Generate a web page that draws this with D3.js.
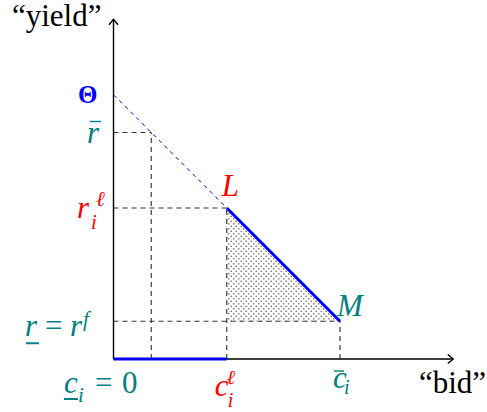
<!DOCTYPE html>
<html>
<head>
<meta charset="utf-8">
<script src="https://cdn.jsdelivr.net/npm/d3@7"></script>
<style>
  body { margin: 0; background: #fff; }
</style>
</head>
<body>
<div id="chart"></div>
<script>
// values in "bid" / "yield" units, axis runs 0..9 both ways
const axisMax = 9;
const lineBid = [0, 3, 6];      // Theta, L, M
const lineYield = [7, 4, 1];
const guideBid = [1, 3, 6];     // r-bar, c_i^l, c-bar_i
const guideYield = [6, 4, 1];   // r-bar, r_i^l, r^f
const zeroBid = [0, 3];         // blue stretch on the bid axis

const w = 487, h = 412;
const teal = "#008080", red = "#ff0000", blue = "#0000ff";
const serif = "'Liberation Serif', 'Times New Roman', Times, 'DejaVu Serif', serif";

const svg = d3.select("#chart").append("svg").attr("width", w).attr("height", h);

const x = d3.scaleLinear().domain([0, axisMax]).range([113.5, 453.25]);
const y = d3.scaleLinear().domain([0, axisMax]).range([359, 19.25]);

// dot pattern for the shaded triangle
const pat = svg.append("defs").append("pattern")
  .attr("id", "dots").attr("patternUnits", "userSpaceOnUse")
  .attr("width", 5).attr("height", 5);
pat.append("circle").attr("cx", 1.25).attr("cy", 1.25).attr("r", 0.85).attr("fill", "#777");
pat.append("circle").attr("cx", 3.75).attr("cy", 3.75).attr("r", 0.85).attr("fill", "#777");

// triangle L - M - (c_i^l, r^f)
const tri = [[lineBid[1], lineYield[1]], [lineBid[2], lineYield[2]], [lineBid[1], lineYield[2]]];
svg.append("path")
  .attr("d", d3.line().x(d => x(d[0])).y(d => y(d[1]))(tri) + "Z")
  .attr("fill", "url(#dots)");

// dashed guides to both axes
guideBid.forEach((b, i) => {
  const v = guideYield[i];
  svg.append("line").attr("x1", x(0)).attr("x2", x(b)).attr("y1", y(v)).attr("y2", y(v))
    .attr("stroke", "#333").attr("stroke-width", 1.15).attr("stroke-dasharray", "5,4");
  svg.append("line").attr("x1", x(b)).attr("x2", x(b)).attr("y1", y(0)).attr("y2", y(v))
    .attr("stroke", "#333").attr("stroke-width", 1.15).attr("stroke-dasharray", "5,4");
});

// thin dashed part Theta -> L
svg.append("line")
  .attr("x1", x(lineBid[0])).attr("y1", y(lineYield[0]))
  .attr("x2", x(lineBid[1])).attr("y2", y(lineYield[1]))
  .attr("stroke", blue).attr("stroke-width", 1).attr("stroke-dasharray", "4,4");

// axes with open arrow heads
const ax = svg.append("g").attr("stroke", "#000").attr("fill", "none").attr("stroke-width", 1.4);
ax.append("line").attr("x1", x(0)).attr("x2", x(0)).attr("y1", y(0)).attr("y2", y(axisMax));
ax.append("line").attr("x1", x(0)).attr("x2", x(axisMax)).attr("y1", y(0)).attr("y2", y(0));
ax.append("path").attr("d", `M${x(0) - 4.5},${y(axisMax) + 5.5} L${x(0)},${y(axisMax)} L${x(0) + 4.5},${y(axisMax) + 5.5}`);
ax.append("path").attr("d", `M${x(axisMax) - 5.5},${y(0) - 4.5} L${x(axisMax)},${y(0)} L${x(axisMax) - 5.5},${y(0) + 4.5}`);

// thick blue pieces
svg.append("line").attr("x1", x(zeroBid[0])).attr("x2", x(zeroBid[1])).attr("y1", y(0)).attr("y2", y(0))
  .attr("stroke", blue).attr("stroke-width", 3);
svg.append("line")
  .attr("x1", x(lineBid[1])).attr("y1", y(lineYield[1]))
  .attr("x2", x(lineBid[2])).attr("y2", y(lineYield[2]))
  .attr("stroke", blue).attr("stroke-width", 3);

// text helper
function t(px, py, s, o = {}) {
  return svg.append("text").attr("x", px).attr("y", py).text(s)
    .style("font-family", serif)
    .style("font-size", (o.size || 31) + "px")
    .style("font-style", o.italic ? "italic" : "normal")
    .style("font-weight", o.bold ? "bold" : "normal")
    .attr("text-anchor", o.anchor || "start")
    .attr("fill", o.fill || "#000");
}
function bar(x1, x2, yy, col, sw) {
  svg.append("line").attr("x1", x1).attr("x2", x2).attr("y1", yy).attr("y2", yy)
    .attr("stroke", col).attr("stroke-width", sw || 1.5);
}

// axis titles
t(x(0) - 12, 26, "\u201cyield\u201d", { size: 31, anchor: "end" });
t(419, y(0) + 34, "\u201cbid\u201d", { size: 31 });

// y-side labels
t(x(0) - 16, y(7) + 8.5, "\u0398", { size: 25, bold: true, fill: blue, anchor: "end" });

t(87, y(6) + 10.5, "r", { italic: true, fill: teal });
bar(90, 101, y(6) - 11, teal, 1.4);

t(77, y(4) + 10, "r", { italic: true, fill: red });
t(96, y(4) - 2, "\u2113", { size: 21, italic: true, fill: red });
t(91, y(4) + 21, "i", { size: 21, italic: true, fill: red });

t(25, y(1) + 15, "r", { italic: true, fill: teal });
bar(26, 39, y(1) + 22, teal, 2);
t(45, y(1) + 15, "=", { fill: teal });
t(70, y(1) + 15, "r", { italic: true, fill: teal });
t(83, y(1) + 5, "f", { size: 21, italic: true, fill: teal });

// x-side labels
t(64, y(0) + 34, "c", { italic: true, fill: teal });
bar(64, 78, y(0) + 40, teal, 2);
t(78, y(0) + 43, "i", { size: 21, italic: true, fill: teal });
t(95, y(0) + 34, "=", { fill: teal });
t(122, y(0) + 34, "0", { fill: teal });

t(x(3) - 12, y(0) + 37, "c", { italic: true, fill: red });
t(x(3) + 0, y(0) + 25, "\u2113", { size: 20, italic: true, fill: red });
t(x(3) + 1, y(0) + 48, "i", { size: 20, italic: true, fill: red });

t(x(6) - 7, y(0) + 29, "c", { italic: true, fill: teal });
bar(x(6) - 6, x(6) + 4, y(0) + 12, teal, 1.4);
t(x(6) + 4, y(0) + 35, "i", { size: 20, italic: true, fill: teal });

// point labels
t(x(3) - 5, y(4) - 12, "L", { italic: true, fill: red });
t(x(6) - 3, y(1) - 5, "M", { italic: true, fill: teal });
</script>
</body>
</html>
